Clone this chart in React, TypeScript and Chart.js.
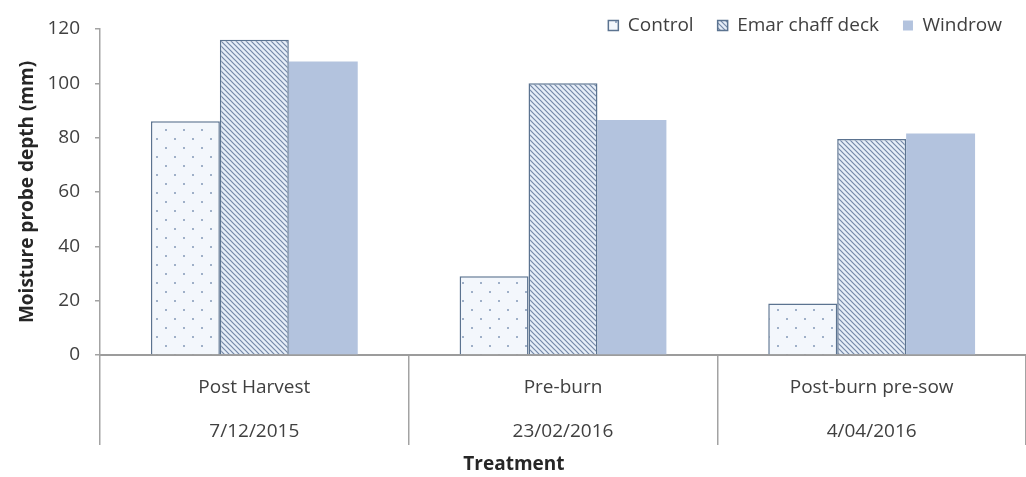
import { useEffect, useRef } from 'react';
import { Chart, registerables } from 'chart.js';

Chart.register(...registerables);

// Treatment stages and their sampling dates
const treatments = ['Post Harvest', 'Pre-burn', 'Post-burn pre-sow'];
const sampleDates = ['7/12/2015', '23/02/2016', '4/04/2016'];

// Moisture probe depth (mm) for each residue treatment
const seriesNames = ['Control', 'Emar chaff deck', 'Windrow'];
const controlDepth = [86, 29, 19];
const emarDepth = [116, 100, 79.5];
const windrowDepth = [108, 86.5, 81.5];

// Value axis
const yMin = 0;
const yMax = 120;
const yStep = 20;

const FONT = '"Open Sans", "DejaVu Sans", sans-serif';
const TEXT = '#404040';
const AXIS = '#a3a3a3';
const EDGE = '#5b7390';

// Sparse staggered dot fill for the control bars
function dotPattern(): CanvasPattern | string {
  const s = 18;
  const c = document.createElement('canvas');
  c.width = s;
  c.height = s;
  const g = c.getContext('2d');
  if (!g) return '#f4f8fd';
  g.fillStyle = '#f3f7fc';
  g.fillRect(0, 0, s, s);
  g.fillStyle = '#9fb0c8';
  g.fillRect(3, 3, 2, 2);
  g.fillRect(12, 12, 2, 2);
  return g.createPattern(c, 'repeat') || '#f4f8fd';
}

// Back-slash hatch fill for the chaff deck bars
function hatchPattern(): CanvasPattern | string {
  const s = 5;
  const c = document.createElement('canvas');
  c.width = s;
  c.height = s;
  const g = c.getContext('2d');
  if (!g) return '#dce7f3';
  g.fillStyle = '#e6eef8';
  g.fillRect(0, 0, s, s);
  g.strokeStyle = '#7488a8';
  g.lineWidth = 1.2;
  g.beginPath();
  g.moveTo(-1, -1);
  g.lineTo(s + 1, s + 1);
  g.moveTo(-1, s - 1);
  g.lineTo(1, s + 1);
  g.moveTo(s - 1, -1);
  g.lineTo(s + 1, 1);
  g.stroke();
  return g.createPattern(c, 'repeat') || '#dce7f3';
}

// Lifts the legend row above the plot's top edge, beside the 120 tick
const legendLift = {
  id: 'legendLift',
  afterLayout(chart: any) {
    const lg = chart.legend;
    if (lg) {
      lg.top = chart.chartArea.top - 37;
      lg.bottom = lg.top + 60;
      lg.height = 60;
    }
  },
};

// Category axis title, drawn under the date labels
const xAxisTitle = {
  id: 'xAxisTitle',
  afterDraw(chart: any) {
    const { ctx, chartArea } = chart;
    ctx.save();
    ctx.font = `bold 19px ${FONT}`;
    ctx.fillStyle = '#262626';
    ctx.textAlign = 'center';
    ctx.textBaseline = 'middle';
    const x = chartArea.left + (chartArea.right - chartArea.left) * 0.447;
    ctx.fillText('Treatment', x, chart.height - 12);
    ctx.restore();
  },
};

export default function App() {
  const ref = useRef<HTMLCanvasElement | null>(null);

  useEffect(() => {
    const canvas = ref.current;
    if (!canvas) return;
    const labels = treatments.map((t, i) => [t, sampleDates[i]]);
    const chart = new Chart(canvas, {
      type: 'bar',
      data: {
        labels,
        datasets: [
          {
            label: seriesNames[0],
            data: controlDepth,
            backgroundColor: dotPattern(),
            borderColor: EDGE,
            borderWidth: 1.5,
          },
          {
            label: seriesNames[1],
            data: emarDepth,
            backgroundColor: hatchPattern(),
            borderColor: EDGE,
            borderWidth: 1.5,
          },
          {
            label: seriesNames[2],
            data: windrowDepth,
            backgroundColor: '#b3c3de',
            borderWidth: 0,
          },
        ],
      },
      options: {
        animation: false,
        responsive: false,
        devicePixelRatio: 1,
        layout: { padding: { left: 0, right: 0, top: 28, bottom: 0 } },
        datasets: {
          bar: { categoryPercentage: 0.67, barPercentage: 1.0 },
        },
        plugins: {
          title: { display: false },
          tooltip: { enabled: false },
          legend: {
            position: 'top',
            align: 'end',
            maxHeight: 1,
            labels: {
              boxWidth: 10,
              boxHeight: 10,
              padding: 24,
              color: TEXT,
              font: { family: FONT, size: 19 },
            },
          },
        },
        scales: {
          x: {
            afterFit: (scale: any) => {
              scale.height = 122;
            },
            grid: {
              offset: true,
              drawOnChartArea: false,
              drawTicks: true,
              tickLength: 90,
              lineWidth: 1.5,
              color: (ctx: any) => (ctx.index >= treatments.length ? 'rgba(0,0,0,0)' : AXIS),
            },
            border: { display: true, color: '#9c9c9c', width: 2 },
            ticks: {
              color: TEXT,
              font: { family: FONT, size: 19, lineHeight: '44px' },
              padding: -79,
              maxRotation: 0,
              autoSkip: false,
            },
          },
          y: {
            min: yMin,
            max: yMax,
            afterFit: (scale: any) => {
              scale.width = 100;
            },
            ticks: {
              stepSize: yStep,
              color: TEXT,
              padding: 15,
              font: { family: FONT, size: 19 },
            },
            grid: {
              drawOnChartArea: false,
              drawTicks: true,
              tickLength: 5,
              color: AXIS,
              lineWidth: 1.5,
            },
            border: { display: true, color: AXIS, width: 1.5 },
            title: {
              display: true,
              text: 'Moisture probe depth (mm)',
              color: '#262626',
              font: { family: FONT, size: 19, weight: 'bold' },
              padding: { top: 16, bottom: 0 },
            },
          },
        },
      },
      plugins: [legendLift, xAxisTitle],
    });
    return () => chart.destroy();
  }, []);

  return (
    <div style={{ position: 'fixed', left: 0, top: 0, width: 1026, height: 477, background: '#ffffff' }}>
      <canvas ref={ref} width={1026} height={477} style={{ display: 'block' }} />
    </div>
  );
}
